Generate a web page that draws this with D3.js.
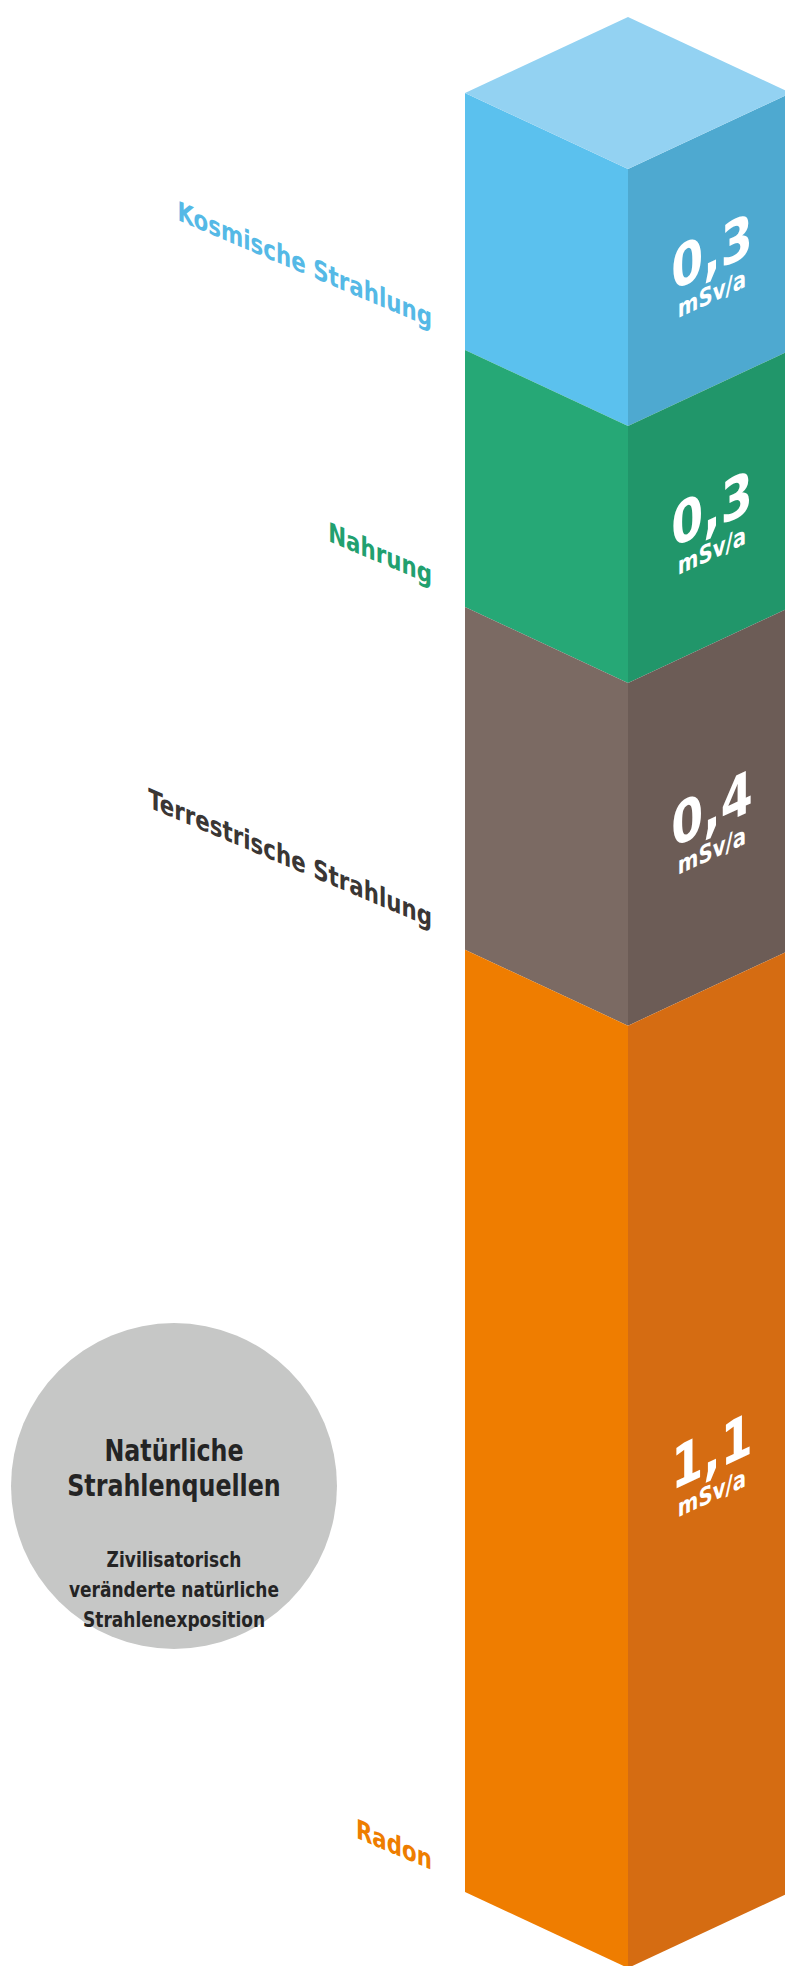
<html lang="de">

<head>
  <meta charset="utf-8">
  <title>Natürliche Strahlenexposition</title>
  <script src="https://cdn.jsdelivr.net/npm/d3@7"></script>
  <style>
    body { margin: 0; background: #fff; }
    text { font-family: "DejaVu Sans Condensed", "DejaVu Sans", sans-serif; font-weight: bold; }
  </style>
</head>

<body>
  <svg width="785" height="1966"></svg>
  <script>
    // data, top to bottom
    const categories = ["Kosmische Strahlung", "Nahrung", "Terrestrische Strahlung", "Radon"];
    const values = [0.3, 0.3, 0.4, 1.1];
    const unit = "mSv/a";
    const frontColors = ["#5bc1ee", "#26a876", "#7b6a63", "#ef7d00"];
    const sideColors = ["#4ea9d0", "#21966a", "#6c5c56", "#d56c12"];
    const labelColors = ["#55b9e6", "#21a06f", "#3a3634", "#ee7d00"];
    const topColor = "#93d2f2";
    const circleTitle = ["Natürliche", "Strahlenquellen"];
    const circleSub = ["Zivilisatorisch", "veränderte natürliche", "Strahlenexposition"];

    const de = d3.formatLocale({ decimal: ",", thousands: ".", grouping: [3], currency: ["", " €"] });
    const fmt = de.format(".1f");

    const svg = d3.select("svg");

    // column geometry
    const xL = 465, xC = 628, xR = 791, D = 76;
    const slope = D / (xC - xL);
    const angle = Math.atan(slope) * 180 / Math.PI;
    const narrow = 0.88; // squeeze glyphs a bit, the original type is a condensed face

    const total = d3.sum(values);
    const cum = [0, ...d3.cumsum(values)];
    const y = d3.scaleLinear().domain([0, total]).range([93, 1892]);

    const segs = values.map((v, i) => ({
      name: categories[i], value: v, i: i,
      y0: y(cum[i]), y1: y(cum[i + 1])
    }));

    const line = d3.line();
    const poly = pts => line(pts) + "Z";

    const col = svg.append("g");

    col.selectAll("path.front")
      .data(segs)
      .enter()
      .append("path")
      .attr("class", "front")
      .attr("d", d => poly([[xL, d.y0], [xC, d.y0 + D], [xC, d.y1 + D], [xL, d.y1]]))
      .attr("fill", d => frontColors[d.i]);

    col.selectAll("path.side")
      .data(segs)
      .enter()
      .append("path")
      .attr("class", "side")
      .attr("d", d => poly([[xC, d.y0 + D], [xR, d.y0], [xR, d.y1], [xC, d.y1 + D]]))
      .attr("fill", d => sideColors[d.i]);

    const yTop = y(0);
    col.append("path")
      .attr("d", poly([[xL, yTop], [xC, yTop + D], [xR, yTop], [xC, yTop - D]]))
      .attr("fill", topColor);

    // category labels, slanted like the front face
    svg.selectAll("text.cat")
      .data(segs)
      .enter()
      .append("text")
      .attr("class", "cat")
      .attr("transform", d => `translate(432,${d.y1 - 22}) skewY(${angle - 2}) scale(${narrow},1)`)
      .attr("text-anchor", "end")
      .attr("font-size", 27)
      .attr("fill", d => labelColors[d.i])
      .text(d => d.name);

    // values on the side face
    const xV = 712;
    const sideY = v => v + D - (xV - xC) * slope;

    const vals = svg.selectAll("g.val")
      .data(segs)
      .enter()
      .append("g")
      .attr("class", "val")
      .attr("transform", d => `translate(${xV},${sideY((d.y0 + d.y1) / 2)}) skewY(${-angle}) scale(${narrow},1)`);

    vals.append("text")
      .attr("y", 14)
      .attr("text-anchor", "middle")
      .attr("font-size", 58)
      .attr("fill", "#fff")
      .text(d => fmt(d.value));

    vals.append("text")
      .attr("y", 44)
      .attr("text-anchor", "middle")
      .attr("font-size", 25)
      .attr("fill", "#fff")
      .text(unit);

    // legend circle
    const cx = 174, cy = 1486;
    svg.append("circle")
      .attr("cx", cx)
      .attr("cy", cy)
      .attr("r", 163)
      .attr("fill", "#c6c7c6");

    svg.selectAll("text.title")
      .data(circleTitle)
      .enter()
      .append("text")
      .attr("class", "title")
      .attr("transform", (d, i) => `translate(${cx},${1461 + i * 35}) scale(${narrow},1)`)
      .attr("text-anchor", "middle")
      .attr("font-size", 30)
      .attr("fill", "#242424")
      .text(d => d);

    svg.selectAll("text.sub")
      .data(circleSub)
      .enter()
      .append("text")
      .attr("class", "sub")
      .attr("transform", (d, i) => `translate(${cx},${1567 + i * 30}) scale(${narrow},1)`)
      .attr("text-anchor", "middle")
      .attr("font-size", 21.5)
      .attr("fill", "#242424")
      .text(d => d);
  </script>
</body>

</html>
